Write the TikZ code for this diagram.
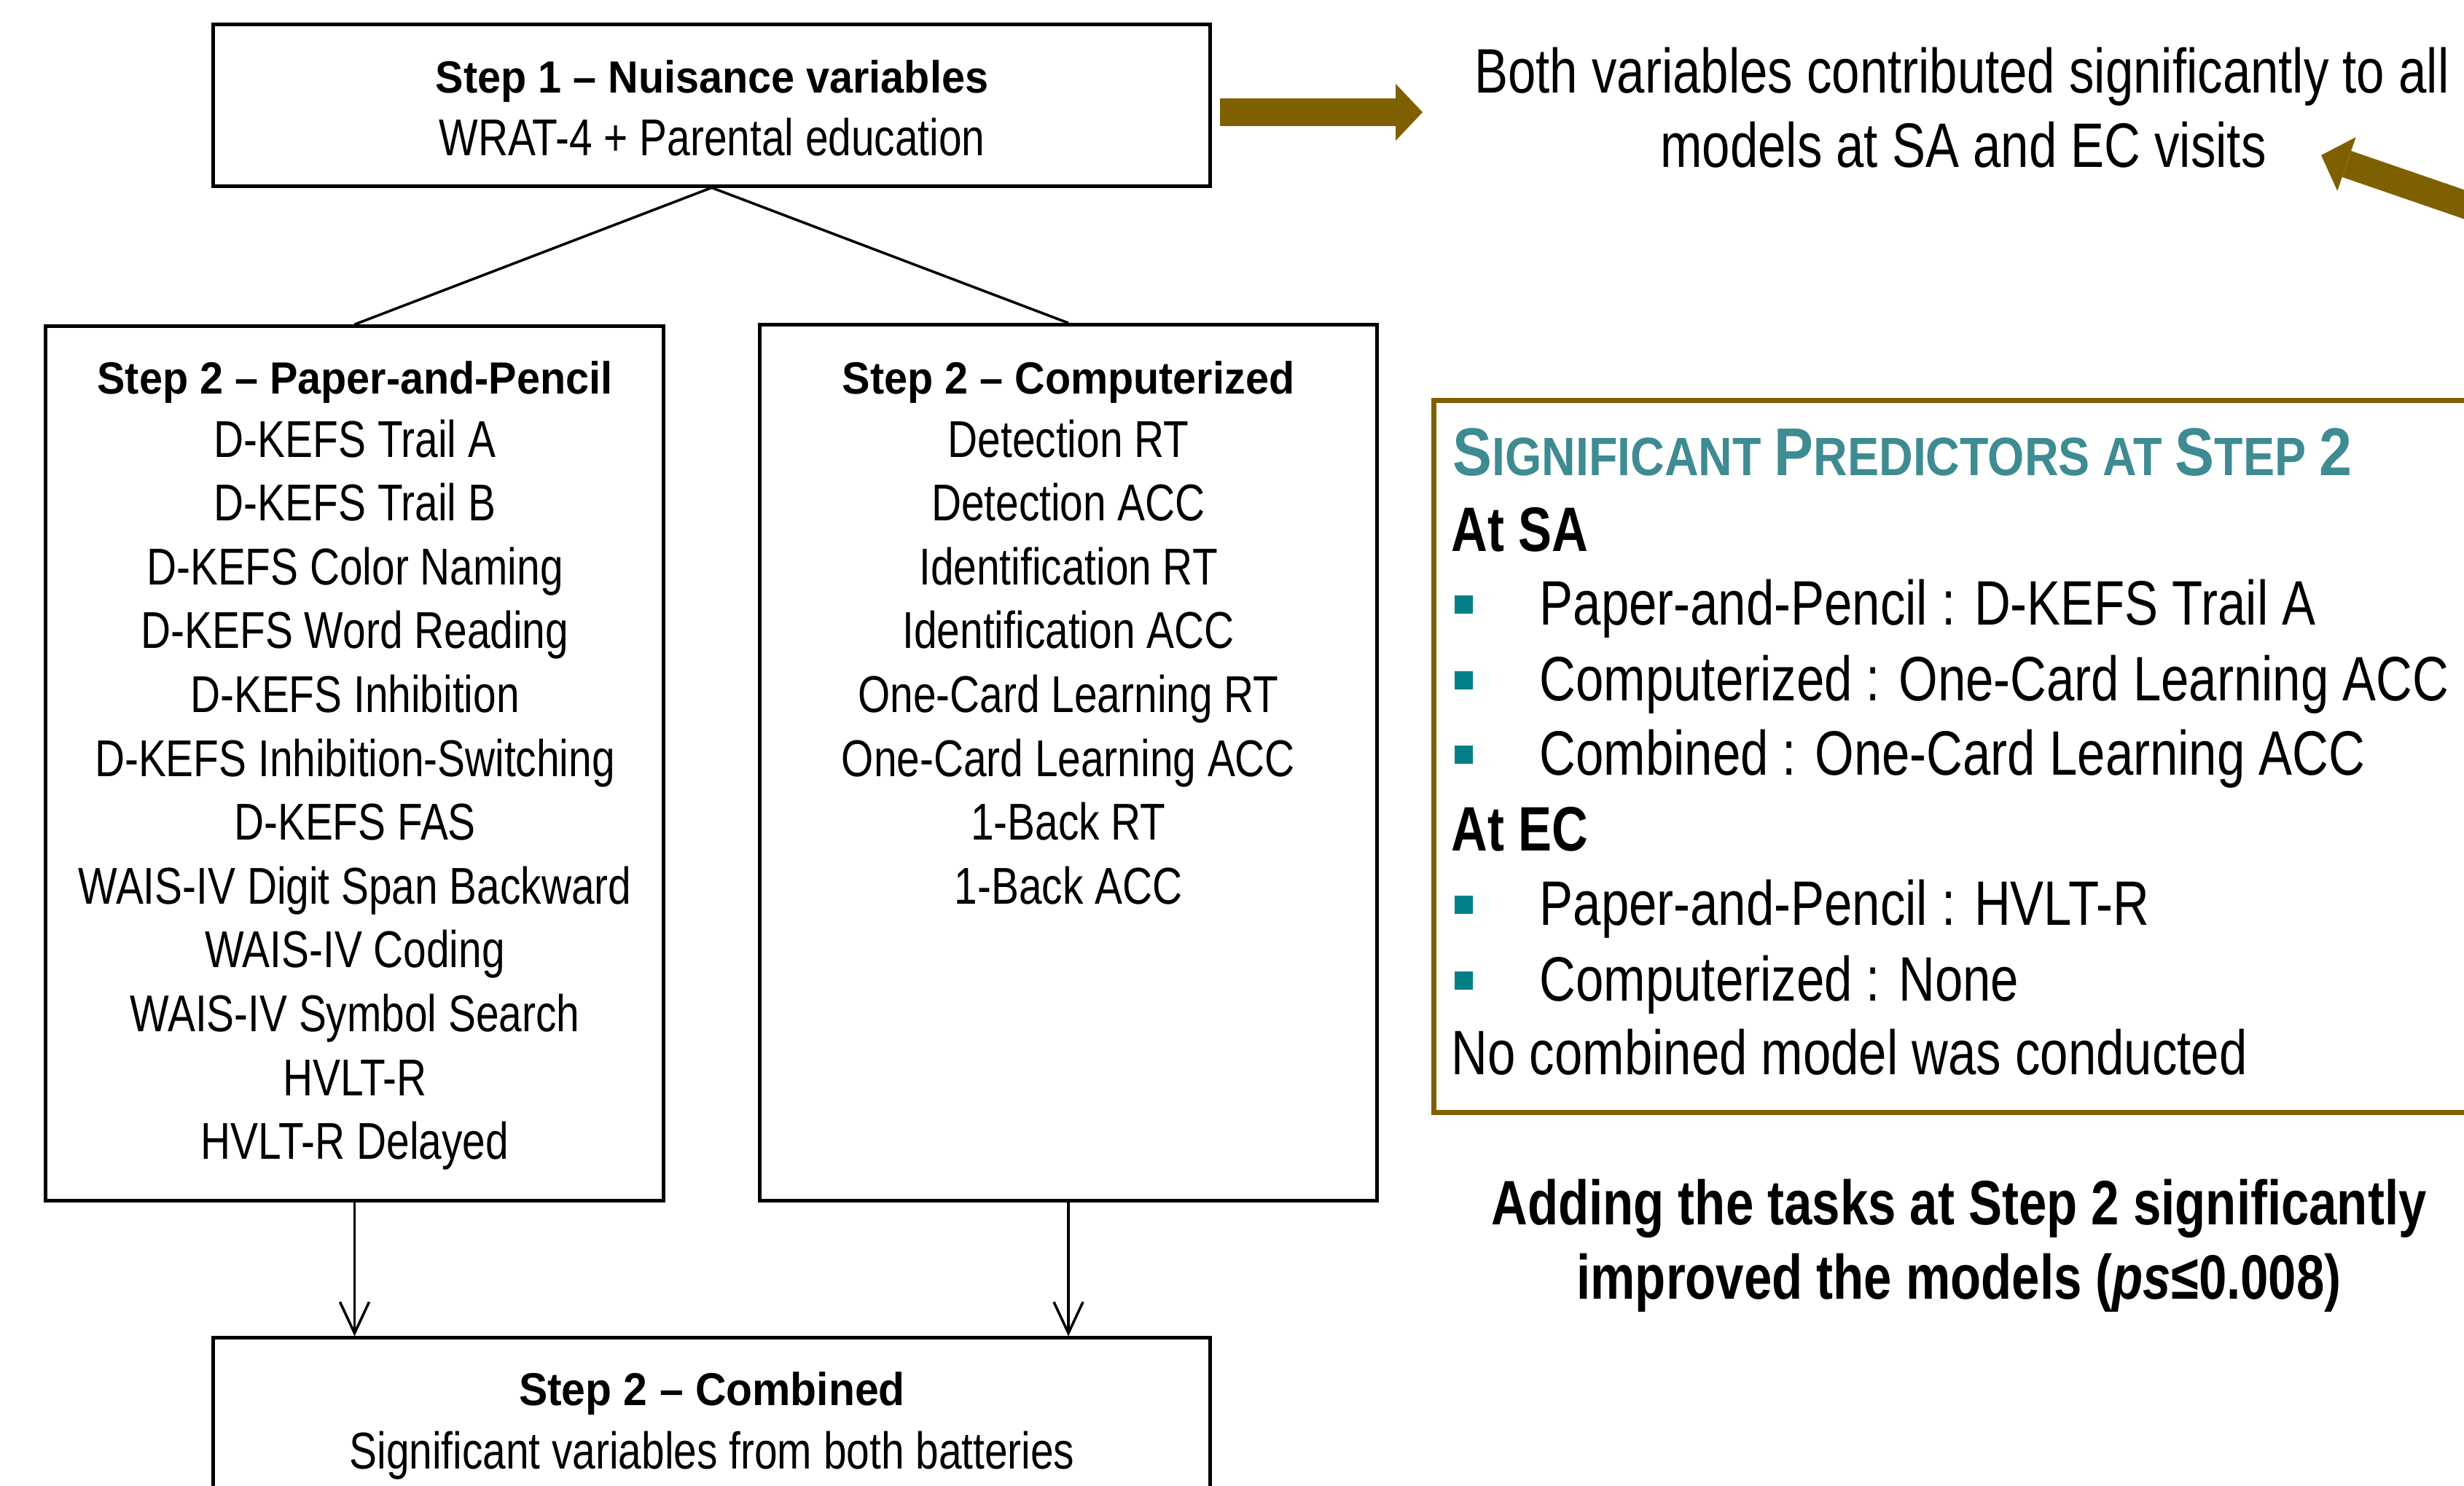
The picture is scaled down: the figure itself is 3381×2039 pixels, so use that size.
\documentclass[tikz,border=0pt]{standalone}
\usepackage{fontspec}
\setmainfont{Liberation Sans}
\newfontfamily\rg[FakeStretch=0.80]{Liberation Sans}
\newfontfamily\hd[FakeStretch=0.93]{Liberation Sans}
\newfontfamily\ttlfont[FakeStretch=0.87]{Liberation Sans}
\usetikzlibrary{arrows.meta}
\definecolor{brn}{RGB}{127,96,0}
\definecolor{tealT}{RGB}{62,139,145}
\definecolor{tealB}{RGB}{0,127,134}
\newcommand\bigc[1]{{\fontsize{26.4pt}{30pt}\selectfont #1}}
\newcommand\smc[1]{{\fontsize{21.1pt}{30pt}\selectfont #1}}
\tikzset{
  frame/.style={draw, line width=1.4pt, inner sep=0pt},
  hdtxt/.style={anchor=base, inner sep=0pt, font=\hd\bfseries\fontsize{17.6pt}{21pt}\selectfont},
  itm/.style={anchor=base, inner sep=0pt, font=\rg\fontsize{20.2pt}{24pt}\selectfont},
  rtxt/.style={anchor=base, inner sep=0pt, font=\rg\fontsize{24.5pt}{29pt}\selectfont},
  rtxtL/.style={rtxt, anchor=base west},
  rtxtB/.style={rtxt, font=\rg\bfseries\fontsize{24.5pt}{29pt}\selectfont},
  link/.style={line width=1pt},
  down/.style={line width=1pt, -{Straight Barb[length=12.2pt,width=11.4pt]}},
  bigarrow/.style={draw=brn, line width=10.8pt, -{Triangle[length=10.5pt,width=22.2pt,line width=0pt]}},
  bul/.style={fill=tealB, minimum size=0.25cm, inner sep=0pt}
}
\begin{document}
\begin{tikzpicture}[x=0.01cm,y=-0.01cm]
\useasboundingbox (0,0) rectangle (3381,2039);
\clip (0,0) rectangle (3381,2039);

% flowchart boxes
\node[frame, minimum width=13.67cm, minimum height=2.21cm] (s1) at (976.5,144.5) {};
\node[frame, minimum width=8.47cm, minimum height=11.99cm] (pp) at (486.5,1047.5) {};
\node[frame, minimum width=8.46cm, minimum height=12.01cm] (cc) at (1466,1046.5) {};
\node[frame, minimum width=13.67cm, minimum height=2.84cm] (comb) at (976.5,1978) {};

% step 1 text
\node[hdtxt] (s1a) at (977,127) {Step 1 – Nuisance variables};
\node[itm] (s1b) at (977,213) {WRAT-4 + Parental education};

% paper and pencil
\node[hdtxt] (pph) at (487,540) {Step 2 – Paper-and-Pencil};
\foreach \t [count=\i from 0] in {D-KEFS Trail A, D-KEFS Trail B, D-KEFS Color Naming,
  D-KEFS Word Reading, D-KEFS Inhibition, D-KEFS Inhibition-Switching, D-KEFS FAS,
  WAIS-IV Digit Span Backward, WAIS-IV Coding, WAIS-IV Symbol Search, HVLT-R, HVLT-R Delayed}
  \node[itm] (p\i) at (487,627+\i*87.6) {\t};

% computerized
\node[hdtxt] (cch) at (1466,540) {Step 2 – Computerized};
\foreach \t [count=\i from 0] in {Detection RT, Detection ACC, Identification RT,
  Identification ACC, One-Card Learning RT, One-Card Learning ACC, 1-Back RT, 1-Back ACC}
  \node[itm] (c\i) at (1466,627+\i*87.6) {\t};

% combined
\node[hdtxt, font=\hd\bfseries\fontsize{18pt}{21pt}\selectfont] (cbh) at (977,1928) {Step 2 – Combined};
\node[itm] (cbt) at (977,2015) {Significant variables from both batteries};

% connectors
\draw[link] (s1.south) -- (pp.north);
\draw[link] (s1.south) -- (cc.north);
\draw[down] (pp.south) -- (pp.south |- comb.north);
\draw[down] (cc.south) -- (cc.south |- comb.north);

% right text
\node[rtxt] (both1) at (2692,127) {Both variables contributed significantly to all};
\node[rtxt] (both2) at (2694,229) {models at SA and EC visits};

% brown arrows
\coordinate (a1s) at (1674,154);
\coordinate (a1e) at (1952,154);
\draw[bigarrow] (a1s) -- (a1e);
\coordinate (a2s) at (3499,321);
\coordinate (a2e) at (3185,213);
\draw[bigarrow] (a2s) -- (a2e);

% predictors box
\node[frame, draw=brn, line width=2pt, minimum width=14.62cm, minimum height=9.76cm] (pb) at (2699,1038) {};
\node[anchor=base west, inner sep=0pt, text=tealT, font=\ttlfont\bfseries] (ttl) at (1993,652)
  {\bigc{S}\smc{IGNIFICANT }\bigc{P}\smc{REDICTORS AT }\bigc{S}\smc{TEP }\bigc{2}};
\node[rtxtL, font=\rg\bfseries\fontsize{24.5pt}{29pt}\selectfont] (atsa) at (1991,756) {At SA};
\node[bul] (u1) at (2008.5,829) {};
\node[rtxtL] (l1) at (2112,857) {Paper-and-Pencil : D-KEFS Trail A};
\node[bul] (u2) at (2008.5,933) {};
\node[rtxtL] (l2) at (2112,961) {Computerized : One-Card Learning ACC};
\node[bul] (u3) at (2008.5,1035) {};
\node[rtxtL] (l3) at (2112,1063) {Combined : One-Card Learning ACC};
\node[rtxtL, font=\rg\bfseries\fontsize{24.5pt}{29pt}\selectfont] (atec) at (1991,1167) {At EC};
\node[bul] (u4) at (2008.5,1241) {};
\node[rtxtL] (l4) at (2112,1269) {Paper-and-Pencil : HVLT-R};
\node[bul] (u5) at (2008.5,1345) {};
\node[rtxtL] (l5) at (2112,1373) {Computerized : None};
\node[rtxtL] (l6) at (1991,1474) {No combined model was conducted};

% conclusion
\node[rtxtB] (add1) at (2688,1680) {Adding the tasks at Step 2 significantly};
\node[rtxtB] (add2) at (2688,1782) {improved the models (\textit{ps}≤0.008)};
\end{tikzpicture}
\end{document}
